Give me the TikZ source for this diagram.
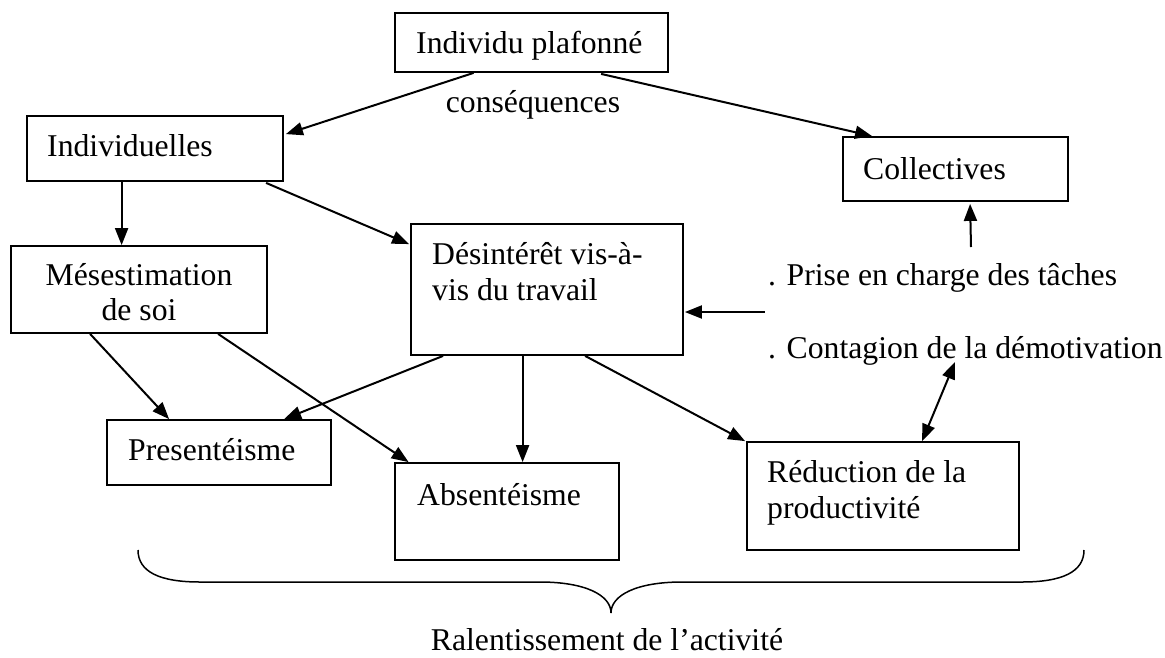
\documentclass[tikz,border=0pt]{standalone}
\usepackage{fontspec}
\setmainfont{Liberation Serif}
\usetikzlibrary{arrows.meta,calc}
\begin{document}
\begin{tikzpicture}[x=1pt,y=-1pt,
  box/.style={draw, line width=1.8pt, inner sep=0pt, rectangle},
  txt/.style={inner sep=0pt, font=\fontsize{31.7pt}{36.5pt}\selectfont, anchor=base west},
  ctxt/.style={txt, anchor=base},
  arr/.style={line width=2pt, -{Triangle[length=17pt,width=13pt]}},
  darr/.style={line width=2pt, {Triangle[length=17pt,width=13pt]}-{Triangle[length=17pt,width=13pt]}},
  brace/.style={line width=1.5pt}]
\useasboundingbox (0,0) rectangle (1165,657);

% boxes
\node[box, minimum width=273pt, minimum height=59pt] (plaf) at (531.5,42.5) {};
\node[box, minimum width=256pt, minimum height=65pt] (ind) at (155,148.5) {};
\node[box, minimum width=225pt, minimum height=64pt] (col) at (955.5,169) {};
\node[box, minimum width=256pt, minimum height=87pt] (mes) at (139,289.5) {};
\node[box, minimum width=272pt, minimum height=131pt] (des) at (547,289.5) {};
\node[box, minimum width=224pt, minimum height=65pt] (pres) at (219,452.5) {};
\node[box, minimum width=224pt, minimum height=97pt] (abs) at (507,511.5) {};
\node[box, minimum width=272pt, minimum height=108pt] (red) at (883,496) {};

% texts
\node[txt] (plaft) at (416,53) {Individu plafonné};
\node[ctxt] (cons) at (533,112) {conséquences};
\node[txt] (indt) at (47,156) {Individuelles};
\node[txt] (colt) at (863,179) {Collectives};
\node[ctxt] (mest1) at (139,285) {Mésestimation};
\node[ctxt] (mest2) at (139,320) {de soi};
\node[txt] (dest1) at (432,264) {Désintérêt vis-à-};
\node[txt] (dest2) at (432,300) {vis du travail};
\node[txt] (prise) at (768,285) {. Prise en charge des tâches};
\node[txt] (cont) at (768,358) {. Contagion de la démotivation};
\node[txt] (prest) at (128,460) {Presentéisme};
\node[txt] (abst) at (417,505) {Absentéisme};
\node[txt] (redt1) at (767,482) {Réduction de la};
\node[txt] (redt2) at (767,518) {productivité};
\node[ctxt] (ral) at (607,650) {Ralentissement de l’activité};

% free ends
\coordinate (pc) at ($(prise.base west)+(203,-38)$);
\coordinate (fl) at ($(des.east)+(81,22.5)$);

% connectors
\draw[arr] ($(plaf.south west)+(79.5,0)$) -- ($(ind.north east)+(2,19)$);
\draw[arr] ($(plaf.south west)+(207,1)$) -- ($(col.north west)+(30,0)$);
\draw[arr] ($(ind.south west)+(95.5,0)$) -- ($(mes.north west)+(111.5,0)$);
\draw[arr] ($(ind.south west)+(240,1)$) -- ($(des.north west)+(-1,21)$);
\draw[arr] (pc) -- ($(col.south west)+(128,2)$);
\draw[arr] (fl) -- ($(des.east)+(1,22.5)$);
\draw[arr] ($(mes.south west)+(80,0)$) -- ($(pres.north west)+(63,0)$);
\draw[arr] ($(mes.south west)+(208,0)$) -- ($(abs.north west)+(14.5,0)$);
\draw[arr] ($(des.south west)+(33,0)$) -- ($(pres.north west)+(178,0)$);
\draw[arr] ($(des.south west)+(112.5,0)$) -- ($(abs.north west)+(128.5,0)$);
\draw[arr] ($(des.south west)+(175,0)$) -- ($(red.north west)+(-1,0)$);
\draw[darr] ($(cont.base west)+(187,4)$) -- ($(red.north west)+(176,0)$);

% brace
\draw[brace] (138,550) .. controls (138,572) and (160,582) .. (200,582)
  -- (540,582) .. controls (585,582) and (611,595) .. (611,613)
  .. controls (611,595) and (637,582) .. (682,582)
  -- (1022,582) .. controls (1062,582) and (1084,572) .. (1084,550);
\end{tikzpicture}
\end{document}
